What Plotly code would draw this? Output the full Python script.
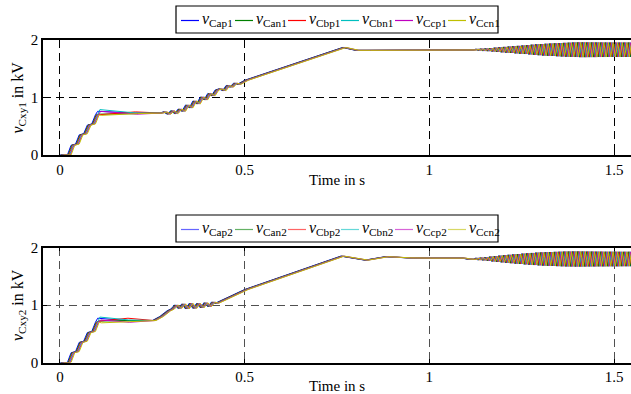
import plotly.graph_objects as go

# ---------------- data ----------------
names_top = ["Cap1", "Can1", "Cbp1", "Cbn1", "Ccp1", "Ccn1"]
names_bot = ["Cap2", "Can2", "Cbp2", "Cbn2", "Ccp2", "Ccn2"]
colors = ["#0000ff", "#008000", "#ff0000", "#00bfbf", "#bf00bf", "#bfbf00"]

# per-series time lag (s)
lag = [0.0, 0.002, 0.004, 0.006, 0.008, 0.010]

# upper panel: shared knots (s) and values (kV); index 9 = knee, 10 = plateau
t_top = [0, 0.02, 0.03, 0.042, 0.052, 0.064, 0.074, 0.086, 0.096, 0.102, 0.2,
         0.27, 0.28, 0.29, 0.30, 0.31, 0.32, 0.33, 0.34, 0.35, 0.36, 0.37, 0.38,
         0.39, 0.40, 0.41, 0.42, 0.43, 0.44, 0.45, 0.46, 0.47, 0.48, 0.50,
         0.765, 0.80, 0.83, 1.09]
v_top = [0, 0, 0.17, 0.19, 0.35, 0.37, 0.52, 0.54, 0.70, 0.74, 0.73,
         0.73, 0.75, 0.71, 0.77, 0.72, 0.80, 0.76, 0.87, 0.82, 0.94, 0.89, 1.01,
         0.96, 1.07, 1.03, 1.13, 1.15, 1.12, 1.21, 1.18, 1.25, 1.23, 1.30,
         1.87, 1.82, 1.82, 1.82]
knee_top = [0.76, 0.71, 0.70, 0.79, 0.76, 0.69]
plateau_top = [0.73, 0.72, 0.75, 0.73, 0.71, 0.72]

# lower panel: index 9 = knee, 10 = plateau
t_bot = [0, 0.02, 0.03, 0.042, 0.052, 0.064, 0.074, 0.086, 0.096, 0.102, 0.18,
         0.25, 0.27, 0.29, 0.30, 0.31, 0.32, 0.33, 0.34, 0.35, 0.36, 0.37, 0.38,
         0.39, 0.40, 0.41, 0.42, 0.45, 0.50, 0.76, 0.825, 0.88, 0.94, 1.0, 1.09]
v_bot = [0, 0, 0.17, 0.19, 0.35, 0.37, 0.52, 0.54, 0.70, 0.74, 0.73,
         0.73, 0.80, 0.90, 0.93, 1.00, 0.94, 1.02, 0.93, 1.03, 0.94, 1.03, 0.95,
         1.04, 0.97, 1.05, 1.03, 1.12, 1.27, 1.85, 1.78, 1.84, 1.82, 1.815, 1.815]
knee_bot = [0.77, 0.72, 0.72, 0.79, 0.74, 0.69]
plateau_bot = [0.73, 0.73, 0.77, 0.74, 0.70, 0.71]

# ripple after ~1.1 s: start, period, centre and per-cycle amplitude (kV)
rip_start = 1.1
rip_period = 0.0125
rip_mid_top = 1.83
rip_amp_top = [0.0, 0.003, 0.01, 0.017, 0.024, 0.03, 0.037, 0.044, 0.05, 0.056,
               0.062, 0.068, 0.074, 0.08, 0.088, 0.094, 0.1, 0.104, 0.108, 0.112,
               0.116, 0.12, 0.123, 0.126, 0.128, 0.128, 0.127, 0.127, 0.126, 0.126,
               0.125, 0.125, 0.125, 0.125, 0.125, 0.125, 0.125]
rip_mid_bot = 1.80
rip_amp_bot = [0.0, 0.006, 0.015, 0.024, 0.033, 0.042, 0.05, 0.058, 0.066, 0.073,
               0.08, 0.087, 0.093, 0.099, 0.105, 0.11, 0.114, 0.118, 0.121, 0.124,
               0.126, 0.128, 0.129, 0.13, 0.13, 0.129, 0.128, 0.128, 0.127, 0.127,
               0.126, 0.126, 0.126, 0.125, 0.125, 0.125, 0.125]

x_ticks = [0, 0.5, 1, 1.5]
x_ticktext = ["0", "0.5", "1", "1.5"]
y_ticks = [0, 1, 2]
y_ticktext = ["0", "1", "2"]


def build(t_base, v_base, knee, plateau, k, rip_mid, rip_amp):
    v = list(v_base)
    v[9] = knee[k]
    v[10] = plateau[k]
    t = list(t_base)
    for i, a in enumerate(rip_amp):
        t += [rip_start + i * rip_period, rip_start + (i + 0.5) * rip_period]
        v += [rip_mid + a, rip_mid - a]
    t = [x + lag[k] for x in t]
    return t, v


fig = go.Figure()
for k in range(6):
    t, v = build(t_top, v_top, knee_top, plateau_top, k, rip_mid_top, rip_amp_top)
    fig.add_trace(go.Scatter(x=t, y=v, mode="lines", name="v" + names_top[k],
                             line=dict(color=colors[k], width=1),
                             showlegend=False, xaxis="x", yaxis="y"))
for k in range(6):
    t, v = build(t_bot, v_bot, knee_bot, plateau_bot, k, rip_mid_bot, rip_amp_bot)
    fig.add_trace(go.Scatter(x=t, y=v, mode="lines", name="v" + names_bot[k],
                             line=dict(color=colors[k], width=1),
                             showlegend=False, xaxis="x2", yaxis="y2"))

W, H = 631, 394
FONT = "Liberation Serif"


def px(x):
    return x / W


def py(y):
    return 1 - y / H


def xaxis(anchor, gridcolor):
    return dict(domain=[px(43), 1], anchor=anchor, range=[-0.046, 1.546],
                automargin=False,
                tickvals=x_ticks, ticktext=x_ticktext, ticks="inside", ticklen=4,
                tickcolor="black", showline=True, linecolor="black", linewidth=1.5,
                mirror="ticks", showgrid=True, gridcolor=gridcolor, gridwidth=1,
                griddash="8px,5px", zeroline=False,
                tickfont=dict(family=FONT, size=15, color="black"))


def yaxis(anchor, dom, gridcolor):
    return dict(domain=dom, anchor=anchor, range=[0, 2], tickvals=y_ticks,
                automargin=False,
                ticktext=y_ticktext, ticks="inside", ticklen=4, tickcolor="black",
                showline=True, linecolor="black", linewidth=1.5, mirror=False,
                showgrid=True, gridcolor=gridcolor, gridwidth=1, griddash="8px,5px",
                zeroline=False, tickfont=dict(family=FONT, size=15, color="black"))


shapes = []
annotations = []


def legend(names, top, bottom, opacity):
    shapes.append(dict(type="rect", xref="paper", yref="paper",
                       x0=px(176), x1=px(498), y0=py(bottom), y1=py(top),
                       line=dict(color="black", width=1.2), fillcolor="white",
                       layer="above"))
    ymid = (top + bottom) / 2
    starts = [181, 235, 288, 341, 395, 448]
    for k, s in enumerate(starts):
        shapes.append(dict(type="line", xref="paper", yref="paper",
                           x0=px(s), x1=px(s + 18), y0=py(ymid + 1), y1=py(ymid + 1),
                           line=dict(color=colors[k], width=1.2), opacity=opacity,
                           layer="above"))
        annotations.append(dict(xref="paper", yref="paper", x=px(s + 19), y=py(ymid),
                                xanchor="left", yanchor="middle", showarrow=False,
                                text="<i>v</i><sub>" + names[k] + "</sub>",
                                font=dict(family=FONT, size=16, color="black")))


legend(names_top, 6, 33, 1.0)
legend(names_bot, 215, 242, 0.6)

for yc, lab in [(97.5, "Cxy1"), (305, "Cxy2")]:
    annotations.append(dict(xref="paper", yref="paper", x=px(18), y=py(yc),
                            xanchor="center", yanchor="middle", showarrow=False,
                            textangle=-90,
                            text="<i>v</i><sub>" + lab + "</sub> in kV",
                            font=dict(family=FONT, size=16, color="black")))
for yc in [180, 386]:
    annotations.append(dict(xref="paper", yref="paper", x=px(337), y=py(yc),
                            xanchor="center", yanchor="middle", showarrow=False,
                            text="Time in s",
                            font=dict(family=FONT, size=15, color="black")))

fig.update_layout(
    template="none",
    width=W, height=H, margin=dict(l=0, r=0, t=0, b=0, autoexpand=False),
    paper_bgcolor="white", plot_bgcolor="white",
    font=dict(family=FONT, color="black"),
    xaxis=xaxis("y", "black"),
    yaxis=yaxis("x", [py(155), py(40)], "black"),
    xaxis2=xaxis("y2", "#505050"),
    yaxis2=yaxis("x2", [py(362.5), py(247.5)], "#505050"),
    shapes=shapes, annotations=annotations, showlegend=False,
)

fig.write_html("out.html", config={"displayModeBar": False},
               post_script="document.body.style.margin='0';"
                           "document.body.style.overflow='hidden';")
